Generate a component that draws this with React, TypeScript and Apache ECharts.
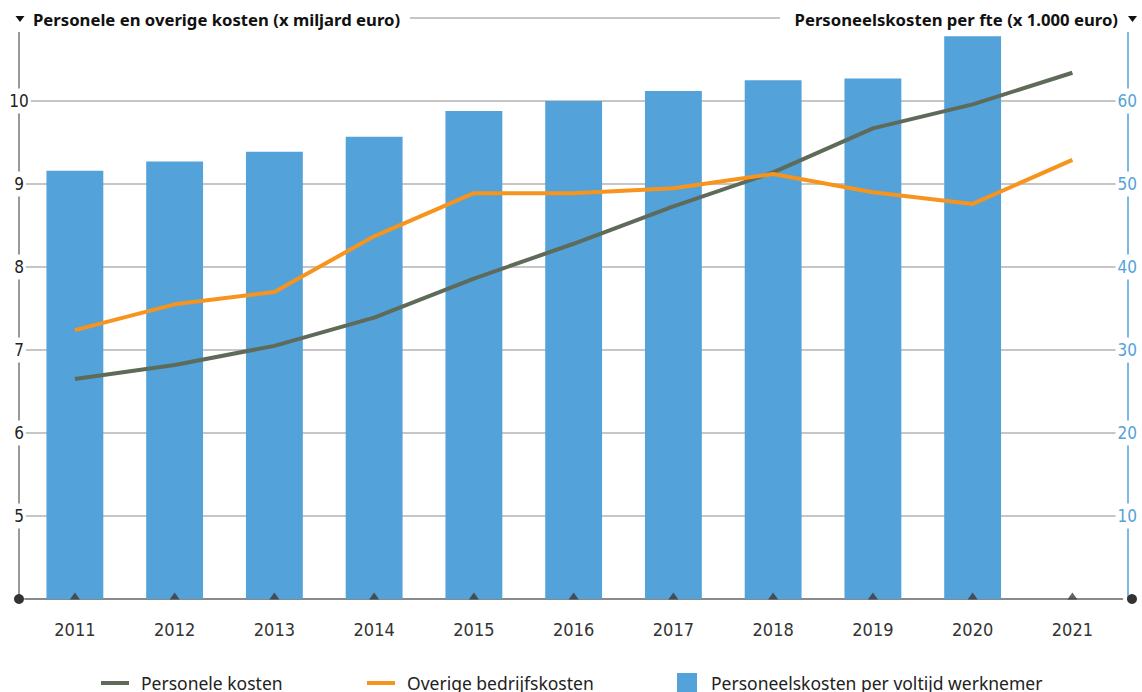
import React, { useEffect, useRef } from "react";
import * as echarts from "echarts";

const years = ["2011", "2012", "2013", "2014", "2015", "2016", "2017", "2018", "2019", "2020", "2021"];
const personeleKosten = [6.65, 6.82, 7.05, 7.39, 7.86, 8.28, 8.73, 9.14, 9.67, 9.96, 10.34];
const overigeKosten = [7.24, 7.55, 7.7, 8.37, 8.89, 8.89, 8.95, 9.12, 8.9, 8.76, 9.29];
const kostenPerFte = [51.6, 52.7, 53.9, 55.7, 58.8, 60.0, 61.2, 62.5, 62.7, 67.8, null];
const baselineMarks = [4, 4, 4, 4, 4, 4, 4, 4, 4, 4, 4];

const leftTitle = "Personele en overige kosten (x miljard euro)";
const rightTitle = "Personeelskosten per fte (x 1.000 euro)";

const FONT = "'Noto Sans', 'Open Sans', sans-serif";
const NARROW = "'Liberation Sans Narrow', 'DejaVu Sans Condensed', sans-serif";
const BLUE = "#53a2da";
const GREY_LINE = "#5e6b5a";
const ORANGE = "#f7941d";

export default function App() {
  const ref = useRef<HTMLDivElement>(null);
  useEffect(() => {
    if (!ref.current) return;
    const chart = echarts.init(ref.current, undefined, { renderer: "svg" });
    const legendText = { fontSize: 17.5, color: "#222", fontFamily: FONT, padding: [0, 0, 0, 7] };
    chart.setOption({
      animation: false,
      backgroundColor: "#fff",
      grid: { left: 25, right: 15, top: 18, bottom: 93, containLabel: false },
      xAxis: {
        type: "category",
        data: years,
        boundaryGap: true,
        axisLine: { show: true, lineStyle: { color: "#8a8a8a", width: 2 } },
        axisTick: { show: false },
        axisLabel: { color: "#333", fontSize: 18, fontFamily: NARROW, margin: 21 },
      },
      yAxis: [
        {
          type: "value",
          position: "left",
          min: 4,
          max: 11,
          interval: 1,
          offset: 6,
          axisLine: { show: true, lineStyle: { color: "#777", width: 1.5 } },
          axisTick: { show: false },
          axisLabel: {
            showMinLabel: false,
            showMaxLabel: false,
            align: "center",
            margin: 0,
            color: "#222",
            fontSize: 17,
            fontFamily: NARROW,
            backgroundColor: "#fff",
            padding: [4, 2],
          },
          splitLine: { show: true, lineStyle: { color: "#c6c6c6", width: 2 } },
        },
        {
          type: "value",
          position: "right",
          min: 0,
          max: 70,
          interval: 10,
          offset: 5,
          axisLine: { show: true, lineStyle: { color: BLUE, width: 1.5 } },
          axisTick: { show: false },
          axisLabel: {
            showMinLabel: false,
            showMaxLabel: false,
            align: "center",
            margin: 0,
            color: BLUE,
            fontSize: 17,
            fontFamily: NARROW,
            backgroundColor: "#fff",
            padding: [4, 2],
          },
          splitLine: { show: false },
        },
      ],
      legend: [
        {
          data: ["Personele kosten"],
          left: 101,
          top: 674,
          padding: 0,
          icon: "rect",
          itemWidth: 28,
          itemHeight: 4,
          textStyle: legendText,
        },
        {
          data: ["Overige bedrijfskosten"],
          left: 367,
          top: 674,
          padding: 0,
          icon: "rect",
          itemWidth: 28,
          itemHeight: 4,
          textStyle: legendText,
        },
        {
          data: ["Personeelskosten per voltijd werknemer"],
          left: 677,
          top: 673,
          padding: 0,
          icon: "rect",
          itemWidth: 20,
          itemHeight: 20,
          textStyle: { ...legendText, padding: [0, 0, 0, 9] },
        },
      ],
      series: [
        {
          name: "Personeelskosten per voltijd werknemer",
          type: "bar",
          yAxisIndex: 1,
          data: kostenPerFte,
          barWidth: "57%",
          itemStyle: { color: BLUE },
          z: 2,
        },
        {
          name: "Personele kosten",
          type: "line",
          yAxisIndex: 0,
          data: personeleKosten,
          showSymbol: false,
          lineStyle: { color: GREY_LINE, width: 4 },
          itemStyle: { color: GREY_LINE },
          z: 4,
        },
        {
          name: "Overige bedrijfskosten",
          type: "line",
          yAxisIndex: 0,
          data: overigeKosten,
          showSymbol: false,
          lineStyle: { color: ORANGE, width: 4 },
          itemStyle: { color: ORANGE },
          z: 4,
        },
        {
          name: "baseline",
          type: "scatter",
          yAxisIndex: 0,
          data: baselineMarks,
          symbol: "triangle",
          symbolSize: [10, 7],
          symbolOffset: [0, -3],
          itemStyle: { color: "#3a3a3a" },
          silent: true,
          z: 6,
        },
      ],
      graphic: [
        { type: "rect", z: 100, shape: { x: 0, y: 4, width: 410, height: 28 }, style: { fill: "#fff" } },
        { type: "polygon", z: 101, shape: { points: [[15.5, 16], [24.5, 16], [20, 22]] }, style: { fill: "#111" } },
        {
          type: "text",
          z: 101,
          x: 33,
          y: 19,
          style: { text: leftTitle, fill: "#111", font: `bold 16.7px ${FONT}`, verticalAlign: "middle" },
        },
        { type: "rect", z: 100, shape: { x: 780, y: 4, width: 362, height: 28 }, style: { fill: "#fff" } },
        {
          type: "text",
          z: 101,
          x: 1118,
          y: 19,
          style: { text: rightTitle, fill: "#111", font: `bold 16.7px ${FONT}`, align: "right", verticalAlign: "middle" },
        },
        { type: "polygon", z: 101, shape: { points: [[1128, 16], [1137, 16], [1132.5, 22]] }, style: { fill: "#111" } },
        { type: "circle", z: 100, shape: { cx: 19, cy: 599, r: 5 }, style: { fill: "#333" } },
        { type: "circle", z: 100, shape: { cx: 1132, cy: 599, r: 5 }, style: { fill: "#333" } },
      ],
    });
    return () => chart.dispose();
  }, []);
  return <div ref={ref} style={{ width: 1142, height: 692, position: "absolute", left: 0, top: 0 }} />;
}
